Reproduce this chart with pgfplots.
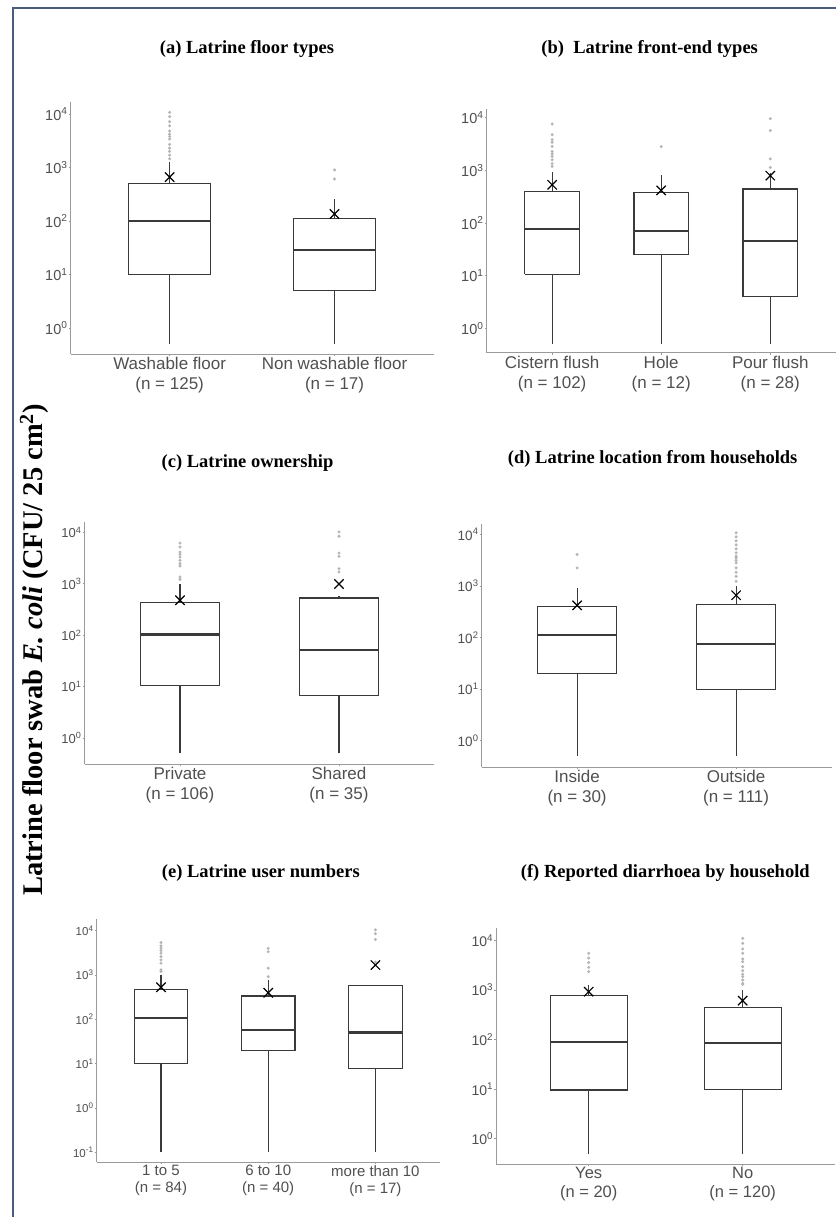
\documentclass[border=0pt]{standalone}
\usepackage{fontspec}
\setmainfont{Liberation Serif}
\setsansfont{Liberation Sans}
\usepackage{pgfplots}
\pgfplotsset{compat=1.18}

\definecolor{frameblue}{HTML}{4A5D7C}
\definecolor{boxline}{HTML}{3A3A3A}
\definecolor{axisgray}{HTML}{9A9A9A}
\definecolor{labgray}{HTML}{505050}
\definecolor{outgray}{HTML}{B4B4B4}

% one box: position, left, right, lower whisker, q1, median, q3, upper whisker
\newcommand{\bx}[8]{%
  \addplot[boxln] coordinates {(#1,#4) (#1,#5)};
  \addplot[boxln] coordinates {(#1,#7) (#1,#8)};
  \addplot[boxln, fill=white] coordinates {(#2,#5) (#3,#5) (#3,#7) (#2,#7) (#2,#5)};
  \addplot[boxln, line width=2.3pt] coordinates {(#2,#6) (#3,#6)};
}

\pgfplotsset{
  pnl/.style={
    scale only axis,
    axis x line*=bottom, axis y line*=left,
    axis line style={axisgray, line width=0.8pt, -},
    tick align=outside, major tick length=2pt,
    tick style={axisgray, line width=0.6pt},
    yminorticks=false, xminorticks=false,
    yticklabel style={text=labgray, anchor=east, inner sep=1pt},
    xticklabel style={text=labgray, align=center, inner sep=1pt},
    clip=false,
  },
  boxln/.style={draw=boxline, line width=1.2pt, line join=miter, mark=none},
  outl/.style={only marks, mark=*, mark size=1.4pt,
    mark options={draw=outgray, fill=outgray, line width=0.2pt}},
  meanx/.style={only marks, mark=x, mark size=6.6pt,
    mark options={draw=black, line width=1.2pt}},
}

\begin{document}
\begin{tikzpicture}
\useasboundingbox (0pt,0pt) rectangle (836pt,1217pt);
\fill[white] (0pt,0pt) rectangle (836pt,1217pt);
\draw[frameblue, line width=1.6pt] (13pt,0pt) -- (13pt,1209pt) -- (836pt,1209pt);

% (a)
\begin{axis}[pnl, ymode=log, at={(70.7pt,863pt)}, anchor=south west,
  width=362.8pt, height=252pt, xmin=0.4, xmax=2.6, ymin=0.327, ymax=16750,
  ytick={1,10,100,1000,10000},
  yticklabels={10\textsuperscript{0},10\textsuperscript{1},10\textsuperscript{2},10\textsuperscript{3},10\textsuperscript{4}},
  xtick={1,2},
  xticklabels={{Washable floor\\(n = 125)},{Non washable floor\\(n = 17)}},
  xticklabel style={font=\sffamily\fontsize{17}{20}\selectfont},
  yticklabel style={font=\sffamily\fontsize{14.5}{16}\selectfont}]
\bx{1}{0.75}{1.25}{0.5}{10}{100}{510}{1260}
\bx{2}{1.75}{2.25}{0.5}{5.1}{29}{110}{260}
\addplot[outl] coordinates {(1,10700) (1,8900) (1,7200) (1,6000) (1,4800) (1,4200)
  (1,3800) (1,3400) (1,2700) (1,2300) (1,2000) (1,1700) (1,1450)
  (2,610) (2,900)};
\addplot[meanx] coordinates {(1,660) (2,135)};
\end{axis}

% (b)
\begin{axis}[pnl, ymode=log, at={(486.7pt,864.3pt)}, anchor=south west,
  width=349pt, height=243.7pt, xmin=0.4, xmax=3.6, ymin=0.348, ymax=14490,
  ytick={1,10,100,1000,10000},
  yticklabels={10\textsuperscript{0},10\textsuperscript{1},10\textsuperscript{2},10\textsuperscript{3},10\textsuperscript{4}},
  xtick={1,2,3},
  xticklabels={{Cistern flush\\(n = 102)},{Hole\\(n = 12)},{Pour flush\\(n = 28)}},
  xticklabel style={font=\sffamily\fontsize{17}{20}\selectfont},
  yticklabel style={font=\sffamily\fontsize{14.5}{16}\selectfont}]
\bx{1}{0.75}{1.25}{0.5}{10.7}{78}{395}{940}
\bx{2}{1.75}{2.25}{0.5}{25}{71}{385}{820}
\bx{3}{2.75}{3.25}{0.5}{4}{45}{440}{900}
\addplot[outl] coordinates {(1,7520) (1,4710) (1,3790) (1,3370) (1,2830) (1,2270)
  (1,2050) (1,1830) (1,1580) (1,1330) (1,1180)
  (2,2800)
  (3,9500) (3,5650) (3,1640) (3,1130)};
\addplot[meanx] coordinates {(1,530) (2,415) (3,790)};
\end{axis}

% (c)
\begin{axis}[pnl, ymode=log, at={(84.6pt,452.7pt)}, anchor=south west,
  width=349.8pt, height=242.6pt, xmin=0.4, xmax=2.6, ymin=0.308, ymax=16150,
  ytick={1,10,100,1000,10000},
  yticklabels={10\textsuperscript{0},10\textsuperscript{1},10\textsuperscript{2},10\textsuperscript{3},10\textsuperscript{4}},
  xtick={1,2},
  xticklabels={{Private\\(n = 106)},{Shared\\(n = 35)}},
  xticklabel style={font=\sffamily\fontsize{17}{20}\selectfont},
  yticklabel style={font=\sffamily\fontsize{13}{15}\selectfont}]
\bx{1}{0.75}{1.25}{0.5}{10.5}{103}{425}{980}
\bx{2}{1.75}{2.25}{0.5}{6.7}{51}{530}{570}
\addplot[outl] coordinates {(1,6200) (1,5190) (1,4140) (1,3740) (1,3310) (1,2860)
  (1,2470) (1,2220) (1,1360) (1,1220)
  (2,10200) (2,8400) (2,3960) (2,3420) (2,1970) (2,1700)};
\addplot[meanx] coordinates {(1,480) (2,990)};
\end{axis}

% (d)
\begin{axis}[pnl, ymode=log, at={(481.7pt,449.7pt)}, anchor=south west,
  width=349.8pt, height=243.3pt, xmin=0.4, xmax=2.6, ymin=0.306, ymax=15860,
  ytick={1,10,100,1000,10000},
  yticklabels={10\textsuperscript{0},10\textsuperscript{1},10\textsuperscript{2},10\textsuperscript{3},10\textsuperscript{4}},
  xtick={1,2},
  xticklabels={{Inside\\(n = 30)},{Outside\\(n = 111)}},
  xticklabel style={font=\sffamily\fontsize{17}{20}\selectfont},
  yticklabel style={font=\sffamily\fontsize{13.5}{15}\selectfont}]
\bx{1}{0.75}{1.25}{0.5}{20}{113}{396}{900}
\bx{2}{1.75}{2.25}{0.5}{10}{76}{440}{980}
\addplot[outl] coordinates {(1,4060) (1,2230)
  (2,10700) (2,8940) (2,7480) (2,6250) (2,5230) (2,4370) (2,3760) (2,3500)
  (2,3140) (2,2800) (2,2240) (2,1840) (2,1530) (2,1230)};
\addplot[meanx] coordinates {(1,420) (2,660)};
\end{axis}

% (e)
\begin{axis}[pnl, ymode=log, at={(96.7pt,54.7pt)}, anchor=south west,
  width=343pt, height=243pt, xmin=0.4, xmax=3.6, ymin=0.0589, ymax=17990,
  ytick={0.1,1,10,100,1000,10000},
  yticklabels={10\textsuperscript{-1},10\textsuperscript{0},10\textsuperscript{1},10\textsuperscript{2},10\textsuperscript{3},10\textsuperscript{4}},
  xtick={1,2,3},
  xticklabels={{1 to 5\\(n = 84)},{6 to 10\\(n = 40)},{more than 10\\(n = 17)}},
  xticklabel style={font=\sffamily\fontsize{15}{16.7}\selectfont},
  yticklabel style={font=\sffamily\fontsize{11.5}{13}\selectfont}]
\bx{1}{0.75}{1.25}{0.1}{10}{106}{465}{1000}
\bx{2}{1.75}{2.25}{0.1}{20}{57}{335}{775}
\bx{3}{2.75}{3.25}{0.1}{7.6}{50}{570}{575}
\addplot[outl] coordinates {(1,5360) (1,4520) (1,4010) (1,3540) (1,3090) (1,2590)
  (1,2180) (1,1840) (1,1300) (1,1190)
  (2,3970) (2,3330) (2,1420) (2,910)
  (3,10400) (3,8500) (3,6300) (3,1950)};
\addplot[meanx] coordinates {(1,525) (2,395) (3,1670)};
\end{axis}

% (f)
\begin{axis}[pnl, ymode=log, at={(496.3pt,53pt)}, anchor=south west,
  width=338.8pt, height=236.3pt, xmin=0.4, xmax=2.6, ymin=0.31, ymax=18030,
  ytick={1,10,100,1000,10000},
  yticklabels={10\textsuperscript{0},10\textsuperscript{1},10\textsuperscript{2},10\textsuperscript{3},10\textsuperscript{4}},
  xtick={1,2},
  xticklabels={{Yes\\(n = 20)},{No\\(n = 120)}},
  xticklabel style={font=\sffamily\fontsize{16.5}{19}\selectfont},
  yticklabel style={font=\sffamily\fontsize{14}{16}\selectfont}]
\bx{1}{0.75}{1.25}{0.5}{9.6}{90}{770}{1260}
\bx{2}{1.75}{2.25}{0.5}{10}{84}{440}{1020}
\addplot[outl] coordinates {(1,5500) (1,4400) (1,3570) (1,2860) (1,2350)
  (2,11000) (2,8750) (2,6720) (2,5500) (2,4220) (2,3720) (2,2950) (2,2450)
  (2,2070) (2,1850) (2,1590) (2,1360) (2,1300)};
\addplot[meanx] coordinates {(1,925) (2,610)};
\end{axis}

% panel titles
\begin{scope}[every node/.style={font=\bfseries\fontsize{18.5}{20}\selectfont}]
\node at (247pt,1168pt) {(a) Latrine floor types};
\node at (649.7pt,1168pt) {(b)~~Latrine front-end types};
\node at (247.5pt,753.7pt) {(c) Latrine ownership};
\node at (652.7pt,757.7pt) {(d) Latrine location from households};
\node at (260.8pt,343.7pt) {(e) Latrine user numbers};
\node at (665.3pt,343.7pt) {(f) Reported diarrhoea by household};
\end{scope}

% shared y label
\node[rotate=90, font=\bfseries\fontsize{28.5}{30}\selectfont] at (34pt,567pt)
  {Latrine floor swab \textit{E. coli} (CFU/ 25 cm\textsuperscript{2})};
\end{tikzpicture}
\end{document}
